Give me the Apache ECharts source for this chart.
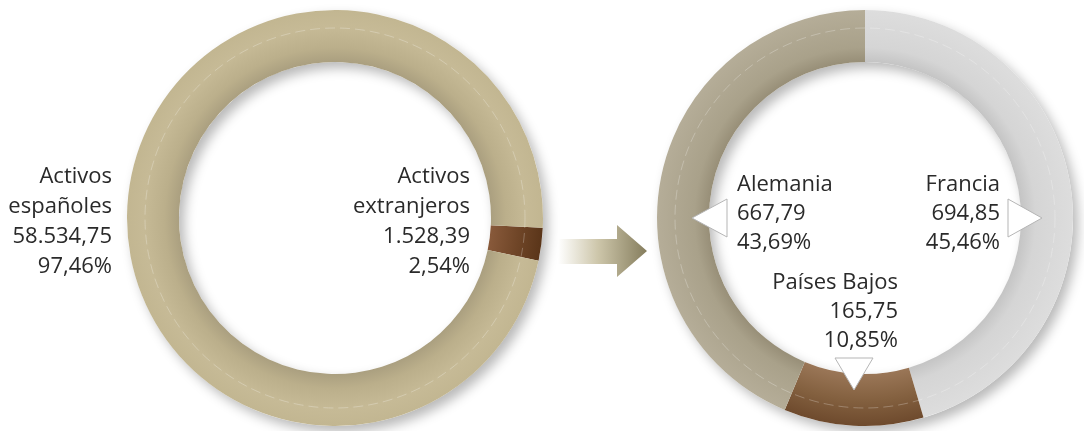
<!DOCTYPE html>
<html>
<head>
<meta charset="utf-8">
<script src="https://cdn.jsdelivr.net/npm/echarts@6/dist/echarts.min.js"></script>
<style>
  html, body { margin: 0; padding: 0; background: #fff; }
  #chart { width: 1084px; height: 431px; }
</style>
</head>
<body>
<div id="chart"></div>
<script>
// cartera total
const totalNames = ['Activos\nextranjeros', 'Activos\nespañoles']
const totalValues = [1528.39, 58534.75]
const totalShares = [2.54, 97.46]

// activos extranjeros por país
const foreignNames = ['Francia', 'Países Bajos', 'Alemania']
const foreignValues = [694.85, 165.75, 667.79]
const foreignShares = [45.46, 10.85, 43.69]

const leftC = [335, 218]
const rightC = [865, 218]
const rIn = 156
const rOut = 208

// label anchors: x, y(top), align
const leftLabelPos = [[470, 162, 'right'], [112, 162, 'right']]
const rightLabelPos = [[1000, 170, 'right'], [898, 268, 'right'], [737, 170, 'left']]

function fmtEs (v) {
  const parts = v.toFixed(2).split('.')
  return parts[0].replace(/\B(?=(\d{3})+(?!\d))/g, '.') + ',' + parts[1]
}

function ringColor (c, stops) {
  return new echarts.graphic.RadialGradient(c[0], c[1], rOut,
    stops.map(s => ({ offset: s[0], color: s[1] })), true)
}

const leftColors = [
  ringColor(leftC, [[0.74, '#8a5b3c'], [0.88, '#704628'], [1, '#5a3519']]),
  ringColor(leftC, [[0.74, '#a89d7e'], [0.82, '#bbaf8b'], [0.92, '#c6ba96'], [1, '#c2b691']])
]
const rightColors = [
  ringColor(rightC, [[0.74, '#c2c2c2'], [0.82, '#d5d5d5'], [1, '#dddddd']]),
  ringColor(rightC, [[0.74, '#9c7859'], [0.88, '#83603f'], [1, '#6e4a2d']]),
  ringColor(rightC, [[0.74, '#958c75'], [0.82, '#a9a18a'], [1, '#b5ad98']])
]

const labelStyle = {
  show: true,
  position: 'outside',
  overflow: 'none',
  fontFamily: 'Open Sans',
  fontSize: 22,
  lineHeight: 30,
  color: '#2a2a2a'
}

function shadowRing (c) {
  return {
    type: 'pie',
    silent: true,
    center: c,
    radius: [rIn, rOut],
    z: 1,
    label: { show: false },
    labelLine: { show: false },
    itemStyle: {
      color: '#fff',
      shadowBlur: 12,
      shadowColor: 'rgba(0,0,0,0.28)',
      shadowOffsetX: 5,
      shadowOffsetY: 6
    },
    data: [1]
  }
}

function triangle (pts) {
  return {
    type: 'polygon',
    z: 10,
    shape: { points: pts },
    style: { fill: '#fff', stroke: '#b5b5b5', lineWidth: 1 }
  }
}

function guide (c) {
  return {
    type: 'circle',
    z: 9,
    silent: true,
    shape: { cx: c[0], cy: c[1], r: 190 },
    style: { fill: null, stroke: 'rgba(255,255,255,0.25)', lineWidth: 1, lineDash: [10, 5] }
  }
}

const chart = echarts.init(document.getElementById('chart'))

chart.setOption({
  animation: false,
  graphic: [
    guide(leftC),
    guide(rightC),
    {
      type: 'polygon',
      z: 10,
      shape: {
        points: [[558, 239], [617, 239], [617, 225], [647, 251], [617, 277], [617, 264], [558, 264]]
      },
      style: {
        fill: new echarts.graphic.LinearGradient(0, 0, 1, 0, [
          { offset: 0, color: '#ffffff' },
          { offset: 0.45, color: '#cdc6aa' },
          { offset: 1, color: '#857d5d' }
        ])
      }
    },
    triangle([[692, 218], [727, 199], [727, 237]]),
    triangle([[1042, 218], [1008, 199], [1008, 237]]),
    triangle([[835, 358], [873, 358], [854, 390]])
  ],
  series: [
    shadowRing(leftC),
    shadowRing(rightC),
    {
      type: 'pie',
      center: leftC,
      radius: [rIn, rOut],
      startAngle: -2.7,
      clockwise: true,
      avoidLabelOverlap: false,
      z: 2,
      emphasis: { disabled: true },
      labelLine: { show: false },
      label: Object.assign({}, labelStyle, {
        formatter: p => p.name + '\n' + fmtEs(totalValues[p.dataIndex]) + '\n' +
          totalShares[p.dataIndex].toFixed(2).replace('.', ',') + '%'
      }),
      labelLayout: p => {
        const pos = leftLabelPos[p.dataIndex]
        return { x: pos[0], y: pos[1], align: pos[2], verticalAlign: 'top', hideOverlap: false }
      },
      data: totalNames.map((n, i) => ({
        name: n,
        value: totalValues[i],
        itemStyle: { color: leftColors[i] }
      }))
    },
    {
      type: 'pie',
      center: rightC,
      radius: [rIn, rOut],
      startAngle: 90,
      clockwise: true,
      avoidLabelOverlap: false,
      z: 2,
      emphasis: { disabled: true },
      labelLine: { show: false },
      label: Object.assign({}, labelStyle, {
        lineHeight: 29,
        formatter: p => p.name + '\n' + fmtEs(foreignValues[p.dataIndex]) + '\n' +
          foreignShares[p.dataIndex].toFixed(2).replace('.', ',') + '%'
      }),
      labelLayout: p => {
        const pos = rightLabelPos[p.dataIndex]
        return { x: pos[0], y: pos[1], align: pos[2], verticalAlign: 'top', hideOverlap: false }
      },
      data: foreignNames.map((n, i) => ({
        name: n,
        value: foreignValues[i],
        itemStyle: { color: rightColors[i] }
      }))
    }
  ]
})
</script>
</body>
</html>
